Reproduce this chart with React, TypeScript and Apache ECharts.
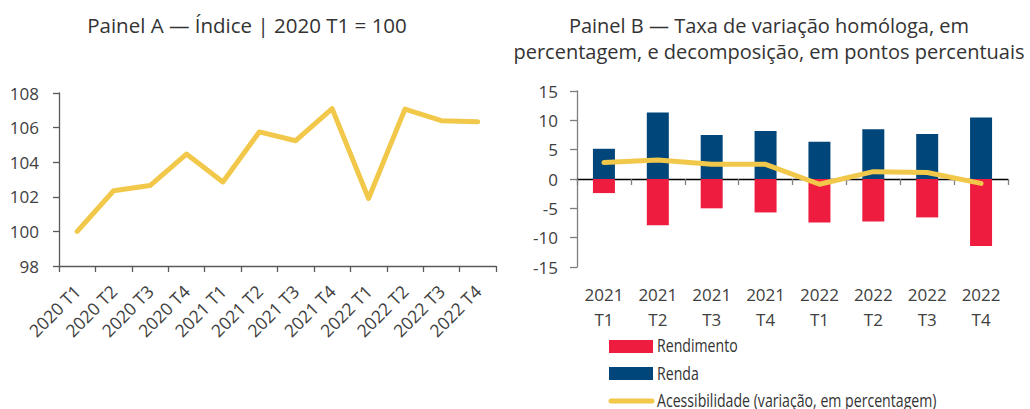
import React, { useEffect, useRef } from "react";
import * as echarts from "echarts";

const catsA = ["2020 T1", "2020 T2", "2020 T3", "2020 T4", "2021 T1", "2021 T2", "2021 T3", "2021 T4", "2022 T1", "2022 T2", "2022 T3", "2022 T4"];
const indice = [100.0, 102.35, 102.65, 104.47, 102.86, 105.75, 105.24, 107.1, 101.9, 107.07, 106.4, 106.34];

const catsB = ["2021\nT1", "2021\nT2", "2021\nT3", "2021\nT4", "2022\nT1", "2022\nT2", "2022\nT3", "2022\nT4"];
const rendimento = [-2.4, -7.9, -5.0, -5.7, -7.4, -7.25, -6.55, -11.4];
const renda = [5.15, 11.35, 7.5, 8.2, 6.35, 8.5, 7.65, 10.5];
const acessibilidade = [2.8, 3.25, 2.5, 2.5, -0.9, 1.25, 1.1, -0.75];

const ticksA = { min: 98, max: 108, interval: 2 };
const ticksB = { min: -15, max: 15, interval: 5 };

const legendNames = ["Rendimento", "Renda", "Acessibilidade (variação, em percentagem)"];

const FONT = "'Open Sans', 'Noto Sans', sans-serif";
const TXT = "#404040";
const YELLOW = "#F2C84B";
const RED = "#EE1C3E";
const BLUE = "#00467A";

export default function App() {
  const ref = useRef<HTMLDivElement>(null);
  useEffect(() => {
    if (!ref.current) return;
    const chart = echarts.init(ref.current, undefined, { renderer: "svg" });
    const legendText = (name: string, y: number) => ({
      type: "text",
      x: 657,
      y,
      scaleX: 0.785,
      silent: true,
      style: {
        text: name,
        x: 0,
        y: 0,
        fill: "#333333",
        font: `18px ${FONT}`,
        align: "left",
        verticalAlign: "middle",
      },
    });
    chart.setOption({
      animation: false,
      backgroundColor: "#ffffff",
      textStyle: { fontFamily: FONT },
      title: [
        {
          text: "Painel A — Índice | 2020 T1 = 100",
          left: 247,
          top: 12,
          padding: 0,
          textAlign: "center",
          textStyle: { fontFamily: FONT, fontSize: 20.5, fontWeight: "normal", color: "#333333", lineHeight: 26 },
        },
        {
          text: "Painel B — Taxa de variação homóloga, em\npercentagem, e decomposição, em pontos percentuais",
          left: 769,
          top: 12,
          padding: 0,
          textAlign: "center",
          textStyle: { fontFamily: FONT, fontSize: 20, fontWeight: "normal", color: "#333333", lineHeight: 26 },
        },
      ],
      graphic: [
        { type: "rect", silent: true, shape: { x: 609, y: 340, width: 44, height: 13 }, style: { fill: RED } },
        { type: "rect", silent: true, shape: { x: 609, y: 367, width: 44, height: 13 }, style: { fill: BLUE } },
        {
          type: "line",
          silent: true,
          shape: { x1: 611, y1: 401, x2: 652, y2: 401 },
          style: { stroke: YELLOW, lineWidth: 5, lineCap: "round" },
        },
        legendText(legendNames[0], 345.5),
        legendText(legendNames[1], 373),
        legendText(legendNames[2], 400),
      ],
      grid: [
        { left: 59, top: 93, width: 437, height: 173 },
        { left: 577, top: 91, width: 431, height: 176 },
      ],
      xAxis: [
        {
          type: "category",
          gridIndex: 0,
          data: catsA,
          boundaryGap: true,
          axisLine: { lineStyle: { color: "#595959", width: 1.3 } },
          axisTick: { show: true, length: 6, lineStyle: { color: "#595959", width: 1.3 } },
          axisLabel: { rotate: 45, margin: 22, fontSize: 17.5, color: TXT, fontFamily: FONT, interval: 0 },
        },
        {
          type: "category",
          gridIndex: 1,
          data: catsB,
          position: "bottom",
          axisLine: { show: false, onZero: false },
          axisTick: { show: false },
          axisLabel: { fontSize: 17, color: TXT, fontFamily: FONT, lineHeight: 25, margin: 15, interval: 0 },
        },
        {
          type: "category",
          gridIndex: 1,
          data: catsB,
          position: "bottom",
          axisLine: { show: true, onZero: true, lineStyle: { color: "#000000", width: 1.3 } },
          axisTick: { show: true, length: 6, lineStyle: { color: "#7f7f7f", width: 1.3 } },
          axisLabel: { show: false },
        },
      ],
      yAxis: [
        {
          type: "value",
          gridIndex: 0,
          min: ticksA.min,
          max: ticksA.max,
          interval: ticksA.interval,
          axisLine: { show: true, lineStyle: { color: "#595959", width: 1.3 } },
          axisTick: { show: true, length: 6, lineStyle: { color: "#595959", width: 1.3 } },
          splitLine: { show: false },
          axisLabel: { fontSize: 17, color: TXT, fontFamily: FONT, margin: 20 },
        },
        {
          type: "value",
          gridIndex: 1,
          min: ticksB.min,
          max: ticksB.max,
          interval: ticksB.interval,
          axisLine: { show: true, lineStyle: { color: "#7f7f7f", width: 1.3 } },
          axisTick: { show: true, length: 7, lineStyle: { color: "#7f7f7f", width: 1.3 } },
          splitLine: { show: false },
          axisLabel: { fontSize: 17, color: TXT, fontFamily: FONT, margin: 19 },
        },
      ],
      series: [
        {
          name: "Índice",
          type: "line",
          xAxisIndex: 0,
          yAxisIndex: 0,
          data: indice,
          showSymbol: false,
          symbol: "none",
          lineStyle: { color: YELLOW, width: 5, cap: "round", join: "round" },
          itemStyle: { color: YELLOW },
        },
        {
          name: legendNames[0],
          type: "bar",
          xAxisIndex: 1,
          yAxisIndex: 1,
          stack: "b",
          data: rendimento,
          barWidth: 22,
          itemStyle: { color: RED },
        },
        {
          name: legendNames[1],
          type: "bar",
          xAxisIndex: 1,
          yAxisIndex: 1,
          stack: "b",
          data: renda,
          barWidth: 22,
          itemStyle: { color: BLUE },
        },
        {
          name: legendNames[2],
          type: "line",
          xAxisIndex: 1,
          yAxisIndex: 1,
          data: acessibilidade,
          showSymbol: false,
          symbol: "none",
          z: 5,
          lineStyle: { color: YELLOW, width: 5, cap: "round", join: "round" },
          itemStyle: { color: YELLOW },
        },
      ],
    });
    return () => chart.dispose();
  }, []);
  return <div ref={ref} style={{ position: "fixed", left: 0, top: 0, width: 1030, height: 409 }} />;
}
